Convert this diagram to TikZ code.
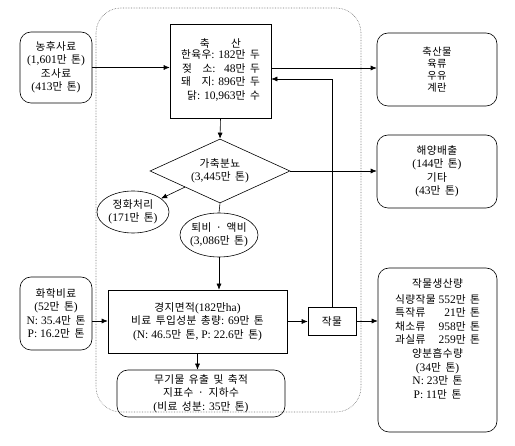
\documentclass[tikz,border=0pt]{standalone}
\usepackage{fontspec}
\setmainfont{Liberation Serif}
\newfontfamily\kr{Noto Sans CJK KR}[Scale=0.93, LetterSpace=4, WordSpace=1.6]
\usetikzlibrary{arrows.meta, shapes.geometric}

\begin{document}
\begin{tikzpicture}[x=1pt, y=-1pt, ->, >={Latex[length=6pt,width=5pt]}, line width=0.6pt, font=\fontsize{11.5}{13.5}\selectfont]
    \tikzstyle{box}=[draw, rectangle, align=center, inner sep=1pt]
    \tikzstyle{rbox}=[box, rounded corners=11pt]
    \tikzstyle{oval}=[draw, ellipse, align=center, inner sep=-5pt]

    \useasboundingbox (0,0) rectangle (515,446);

    % dotted frame round the farm system
    \draw[-, densely dotted, black!55, rounded corners=25pt] (96,8) rectangle (361,412);

    % Draw the inputs on the left
    \node[rbox, minimum width=72, minimum height=71] (feed) at (56,67.5)
        {{\kr 농후사료}\\(1,601{\kr 만 톤})\\{\kr 조사료}\\(413{\kr 만 톤})};
    \node[rbox, minimum width=72, minimum height=73] (fert) at (56,313.5)
        {{\kr 화학비료}\\(52{\kr 만 톤})\\N: 35.4{\kr 만 톤}\\P: 16.2{\kr 만 톤}};

    % Draw the livestock part
    \node[box, minimum width=101, minimum height=94] (stock) at (220.5,71)
        {{\kr 축\qquad 산}\\
         \begin{tabular}{@{}r@{}}
         {\kr 한육우}: 182{\kr 만 두}\\
         {\kr 젖\quad 소}:\ \ \ 48{\kr 만 두}\\
         {\kr 돼\quad 지}: 896{\kr 만 두}\\
         {\kr 닭}: 10,963{\kr 만 수}
         \end{tabular}};
    \node[draw, diamond, aspect=2.3, minimum width=140, minimum height=64, inner sep=-2pt, align=center] (manure) at (220,171)
        {{\kr 가축분뇨}\\(3,445{\kr 만 톤})};
    \node[oval, minimum width=72, minimum height=42] (clean) at (133,212)
        {{\kr 정화처리}\\(171{\kr 만 톤})};
    \node[oval, minimum width=78, minimum height=44] (compost) at (219,235)
        {{\kr 퇴비 · 액비}\\(3,086{\kr 만 톤})};

    % Draw the farmland part
    \node[box, minimum width=179, minimum height=63] (land) at (197.5,321.5)
        {{\kr 경지면적}(182{\kr 만}ha)\\{\kr 비료 투입성분 총량}: 69{\kr 만 톤}\\(N: 46.5{\kr 만 톤}, P: 22.6{\kr 만 톤})};
    \node[box, minimum width=48, minimum height=28] (crop) at (332,321) {{\kr 작물}};
    \node[rbox, minimum width=168, minimum height=47] (mineral) at (201,393.5)
        {{\kr 무기물 유출 및 축적}\\{\kr 지표수 · 지하수}\\({\kr 비료 성분}: 35{\kr 만 톤})};

    % Draw the outputs on the right
    \node[rbox, minimum width=120, minimum height=73, font=\fontsize{11}{12}\selectfont] (goods) at (437,69.5)
        {{\kr 축산물}\\{\kr 육류}\\{\kr 우유}\\{\kr 계란}};
    \node[rbox, minimum width=120, minimum height=73] (sea) at (437,171.5)
        {{\kr 해양배출}\\(144{\kr 만 톤})\\{\kr 기타}\\(43{\kr 만 톤})};
    \node[rbox, minimum width=119, minimum height=164] (yield) at (437.5,350)
        {{\kr 작물생산량}\\[5pt]
         \begin{tabular}{@{}l@{\ }r@{}l@{}}
         {\kr 식량작물} & 552 & {\kr 만 톤}\\
         {\kr 특작류} & 21 & {\kr 만 톤}\\
         {\kr 채소류} & 958 & {\kr 만 톤}\\
         {\kr 과실류} & 259 & {\kr 만 톤}
         \end{tabular}\\
         {\kr 양분흡수량}\\(34{\kr 만 톤})\\N: 23{\kr 만 톤}\\P: 11{\kr 만 톤}\\[10pt]\mbox{}};

    % Connect the nodes
    \draw (feed.east) -- (feed.east -| stock.west);
    \draw ([yshift=3pt]stock.east) -- ([yshift=3pt]stock.east -| goods.west);
    \draw (stock.south) -- (manure.north);
    \draw (manure.east) -- (manure.east -| sea.west);
    \draw (manure.south west) -- (clean);
    \draw[-] (manure.south) -- (compost.north);
    \draw (compost.south) -- (compost.south |- land.north);
    \draw ([yshift=-7.5pt]fert.east) -- ([yshift=-7.5pt]fert.east -| land.west);
    \draw (land.east) -- (land.east -| crop.west);
    \draw (crop.east) -- (crop.east -| yield.west);
    \draw (crop.north) |- ([yshift=-8pt]stock.east);
    \draw (land.south) -- (land.south |- mineral.north);
\end{tikzpicture}
\end{document}
